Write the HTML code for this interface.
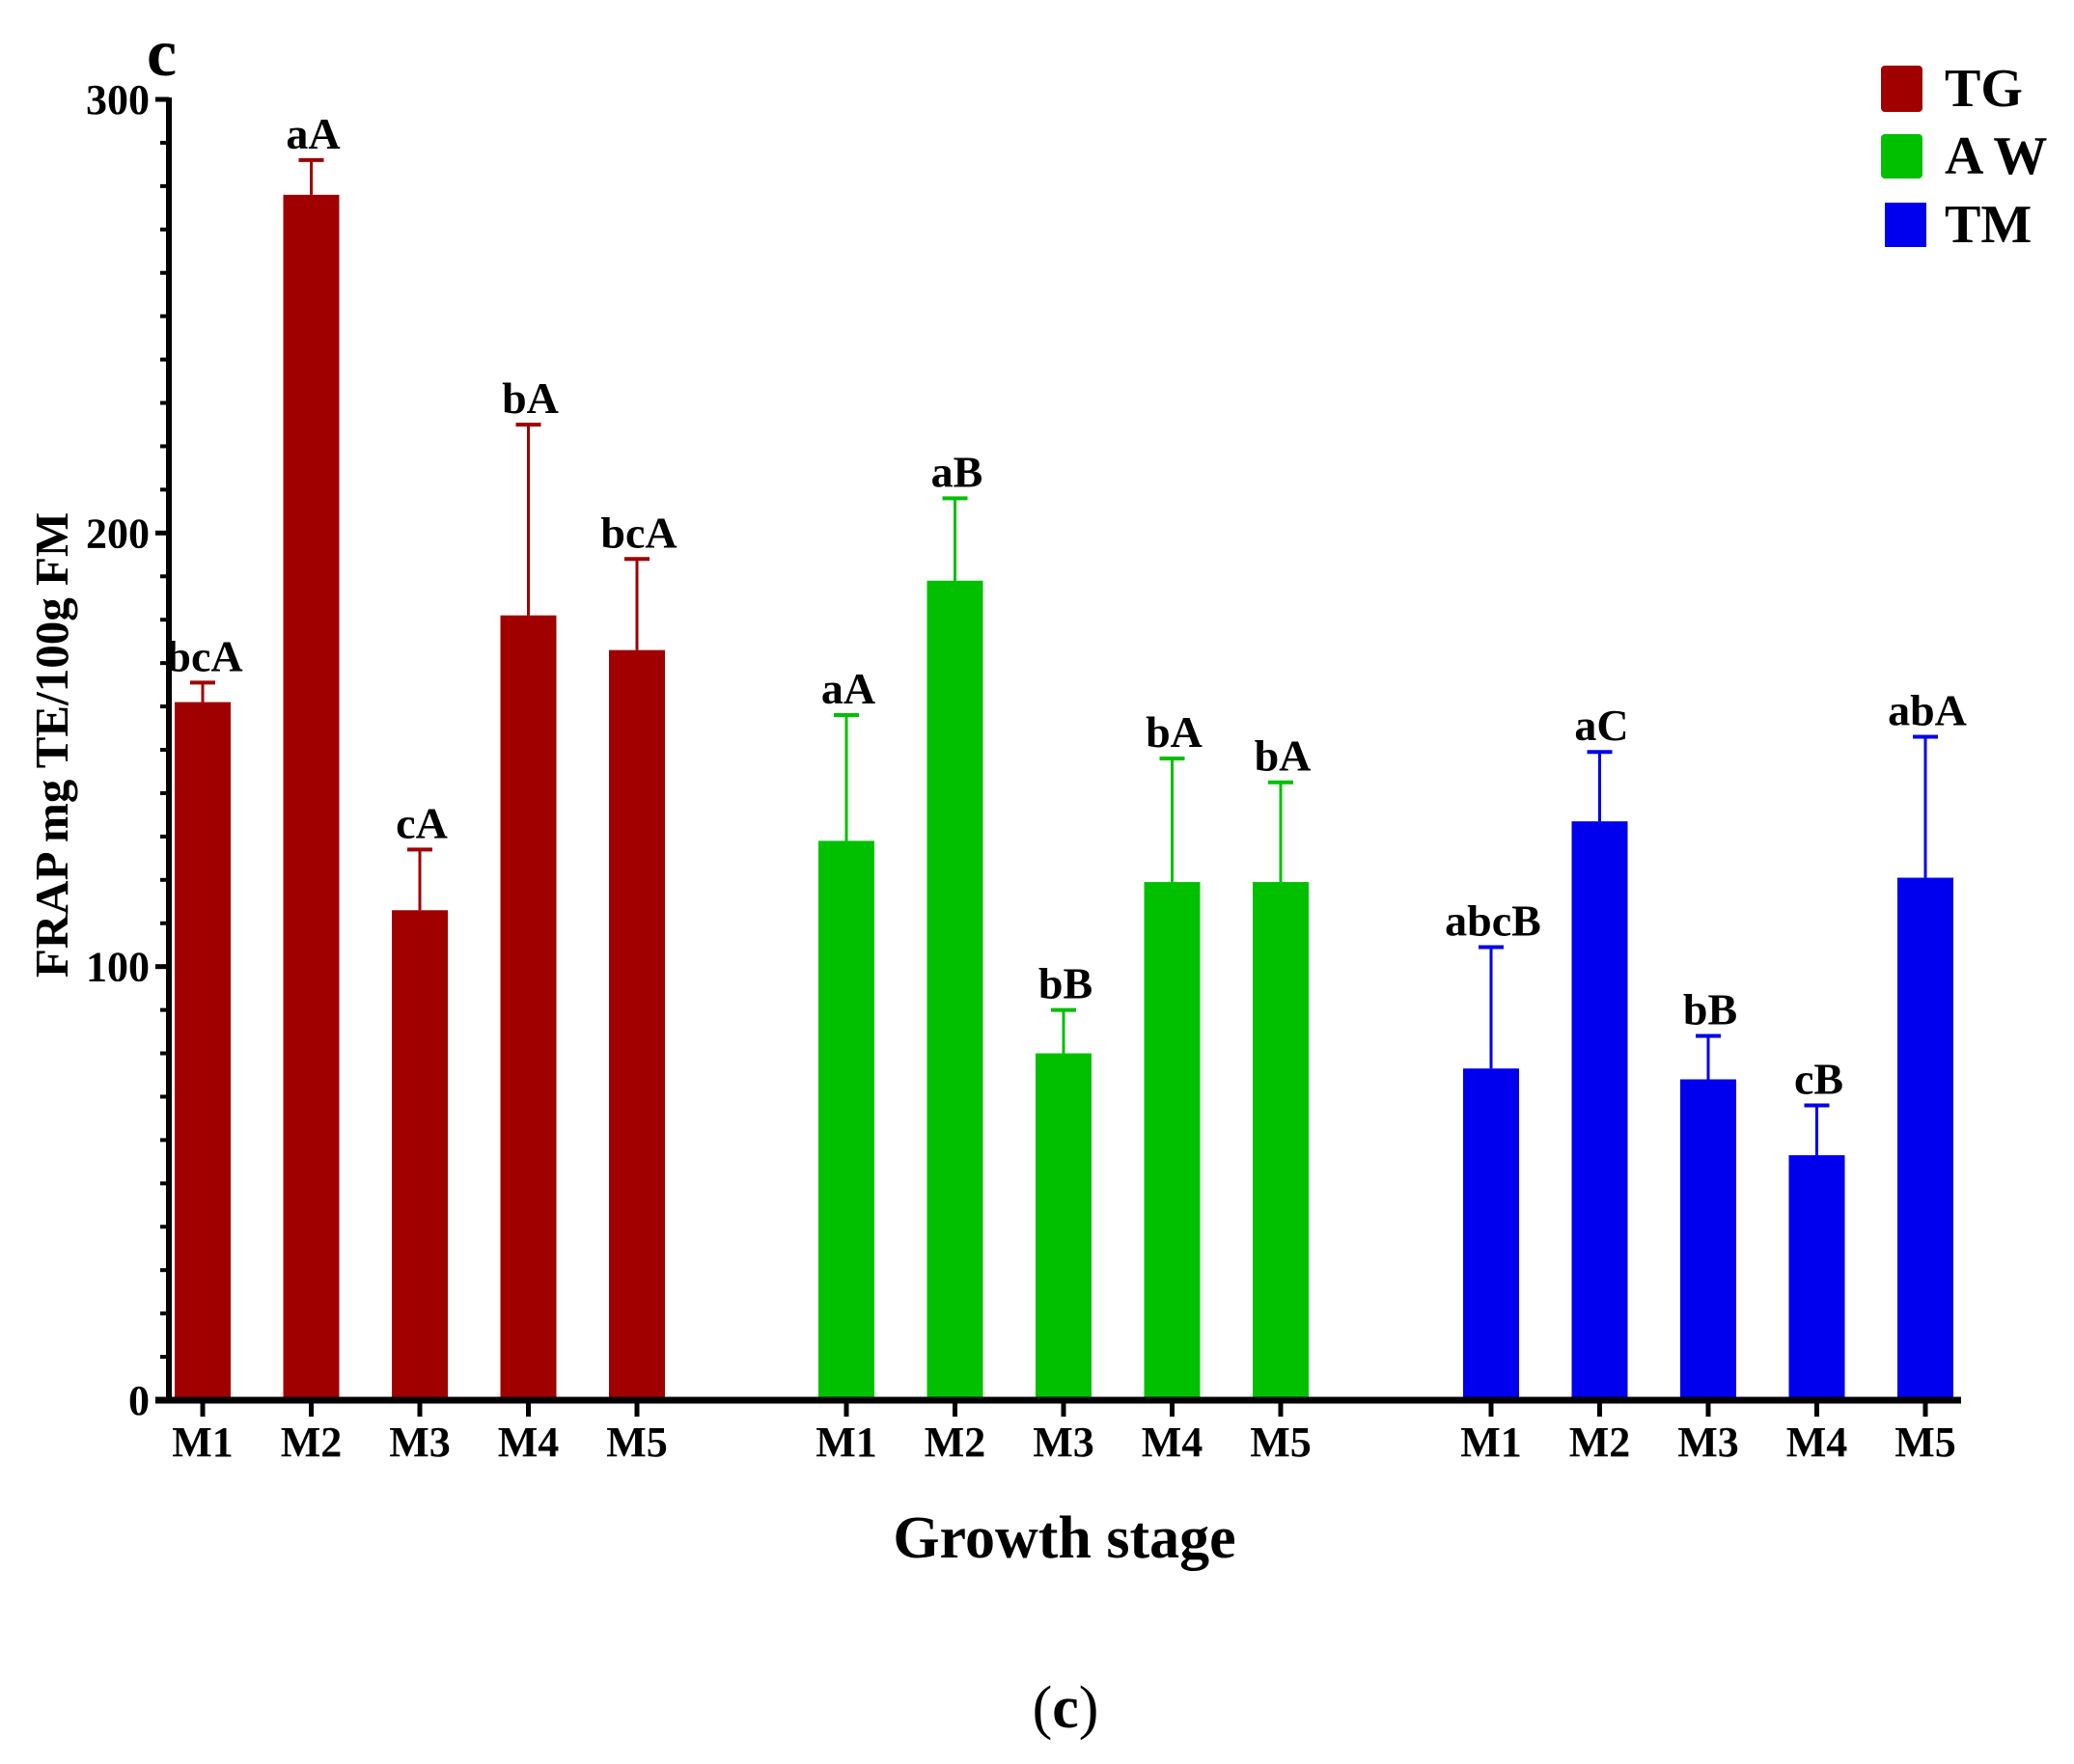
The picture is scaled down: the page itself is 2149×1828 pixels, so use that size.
<!DOCTYPE html>
<html><head><meta charset="utf-8"><style>
html,body{margin:0;padding:0;background:#fff;}
svg{display:block;font-family:"Liberation Serif",serif;font-weight:bold;}
</style></head><body>
<svg id="chart" width="2149" height="1828" viewBox="0 0 2149 1828" xmlns="http://www.w3.org/2000/svg">
<text x="152" y="78" font-size="70">c</text>
<g id="legend">
<rect x="1949" y="68" width="43" height="48" rx="4" fill="#a00000"/>
<text x="2015" y="110" font-size="56">TG</text>
<rect x="1949" y="139" width="43" height="46" rx="4" fill="#00c000"/>
<text x="2015" y="180" font-size="56">A W</text>
<rect x="1953" y="210" width="43" height="46" fill="#0000ee"/>
<text x="2015" y="251" font-size="56">TM</text>
</g>
<text transform="translate(70,772) rotate(-90)" text-anchor="middle" font-size="49">FRAP mg TE/100g FM</text>
<text x="1103" y="1614" text-anchor="middle" font-size="62">Growth stage</text>
<text x="1104" y="1790" text-anchor="middle" font-size="62" font-weight="normal">(<tspan font-weight="bold">c</tspan>)</text>
<g id="plot"></g>
</svg>
<script>
const categories = ["M1","M2","M3","M4","M5"];
const groups = ["TG","AW","TM"];
const tgValues = [161,278,113,181,173];
const awValues = [129,189,80,119.5,119.5];
const tmValues = [76.5,133.5,74,56.5,120.5];
const tgErrors = [4.5,8,14,44,21];
const awErrors = [29,19,10,28.5,23];
const tmErrors = [28,16,10,11.5,32.5];
const tgLetters = ["bcA","aA","cA","bA","bcA"];
const awLetters = ["aA","aB","bB","bA","bA"];
const tmLetters = ["abcB","aC","bB","cB","abA"];
const yTicks = [0,100,200,300];

const colors = ["#a00000","#00c000","#0000ee"];
const NS = "http://www.w3.org/2000/svg";
const plot = document.getElementById("plot");
const x0 = 175, y0 = 1451, yTop = 103, xEnd = 2032, yMax = 300;
const yScale = v => y0 - (v / yMax) * (y0 - yTop);
const groupStart = [210, 877, 1545];
const step = 112.5;
const xScale = (g, i) => groupStart[g] + i * step;
const barW = 58;
function mk(tag, attrs) {
  const el = document.createElementNS(NS, tag);
  for (const k in attrs) el.setAttribute(k, attrs[k]);
  plot.appendChild(el);
  return el;
}
const allVals = [tgValues, awValues, tmValues];
const allErr = [tgErrors, awErrors, tmErrors];
const allLet = [tgLetters, awLetters, tmLetters];
for (let g = 0; g < 3; g++) {
  for (let i = 0; i < categories.length; i++) {
    const cx = xScale(g, i);
    const v = allVals[g][i], e = allErr[g][i];
    const top = yScale(v), et = yScale(v + e);
    const ln = mk("line", {x1: cx, x2: cx, y1: top, y2: et, stroke: colors[g], "stroke-width": 3});
    
    
    const cap = mk("line", {x1: cx - 13, x2: cx + 13, y1: et, y2: et, stroke: colors[g], "stroke-width": 4});
    
    
    const bar = mk("rect", {x: cx - barW / 2, y: top, width: barW, height: y0 - top, fill: colors[g]});
    
    
    const lab = mk("text", {x: cx + 2, y: et - 12, "text-anchor": "middle", "font-size": 46});
    lab.textContent = allLet[g][i];
    
    
    const tk = mk("line", {x1: cx, x2: cx, y1: y0, y2: y0 + 17, stroke: "#000", "stroke-width": 5});
    
    
    const tl = mk("text", {x: cx, y: y0 + 58, "text-anchor": "middle", "font-size": 44});
    tl.textContent = categories[i];
    
    
  }
}
for (let v = 0; v <= yMax; v += 10) {
  const major = yTicks.includes(v);
  const t = mk("line", {x1: x0 - (major ? 14 : 9), x2: x0, y1: yScale(v), y2: yScale(v), stroke: "#000", "stroke-width": major ? 5 : 4});
  
  
}
yTicks.forEach(v => {
  const t = mk("text", {x: x0 - 20, y: yScale(v) + 15, "text-anchor": "end", "font-size": 44});
  t.textContent = v;
  
  
});
const ya = mk("line", {x1: x0, x2: x0, y1: yTop - 2, y2: y0 + 3, stroke: "#000", "stroke-width": 6});


const xa = mk("line", {x1: x0 - 14, x2: xEnd, y1: y0, y2: y0, stroke: "#000", "stroke-width": 7});


</script>
</body></html>
